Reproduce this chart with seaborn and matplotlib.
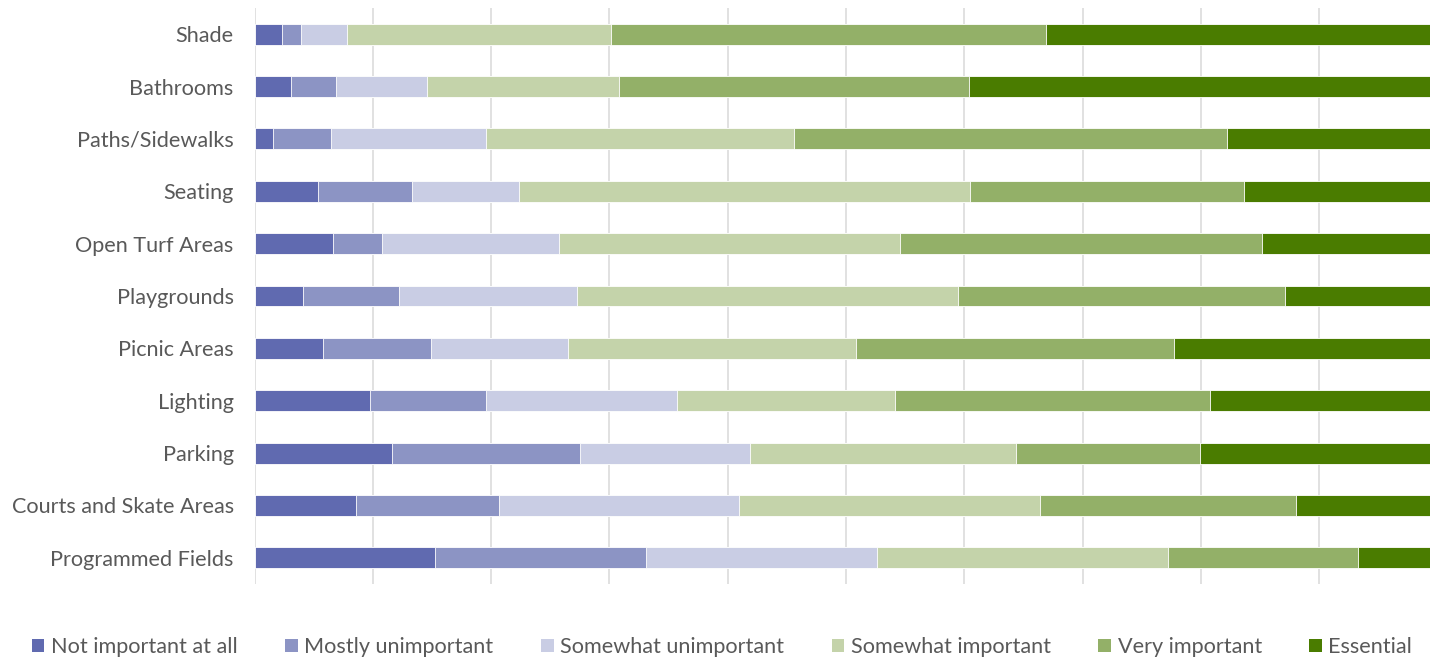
import matplotlib
matplotlib.use("Agg")
import matplotlib.pyplot as plt
from matplotlib.patches import Patch
import seaborn as sns
import pandas as pd
import numpy as np

categories = ["Shade", "Bathrooms", "Paths/Sidewalks", "Seating", "Open Turf Areas",
              "Playgrounds", "Picnic Areas", "Lighting", "Parking",
              "Courts and Skate Areas", "Programmed Fields"]
levels = ["Not important at all", "Mostly unimportant", "Somewhat unimportant",
          "Somewhat important", "Very important", "Essential"]

not_important = [2.3, 3.1, 1.6, 5.4, 6.6, 4.1, 5.8, 9.8, 11.6, 8.6, 15.3]
mostly_unimportant = [1.6, 3.8, 4.9, 7.9, 4.2, 8.1, 9.1, 9.8, 15.9, 12.1, 17.8]
somewhat_unimportant = [3.9, 7.7, 13.1, 9.1, 14.9, 15.1, 11.6, 16.1, 14.4, 20.3, 19.5]
somewhat_important = [22.3, 16.2, 26.0, 38.1, 28.9, 32.2, 24.4, 18.4, 22.5, 25.5, 24.6]
very_important = [36.8, 29.6, 36.6, 23.2, 30.6, 27.6, 26.9, 26.7, 15.5, 21.6, 16.1]
essential = [33.1, 39.6, 17.8, 16.4, 14.8, 12.9, 22.3, 19.2, 20.1, 12.0, 6.7]

colors = ["#606AB0", "#8C94C4", "#C9CDE4", "#C4D3AA", "#93B068", "#4A7C00"]

series = [not_important, mostly_unimportant, somewhat_unimportant,
          somewhat_important, very_important, essential]

df = pd.DataFrame({"category": categories})
cum = np.zeros(len(categories))
for lev, vals in zip(levels, series):
    cum = cum + np.array(vals)
    df[lev] = cum.copy()

# normalize to 100 %
total = df[levels[-1]].values
for lev in levels:
    df[lev] = df[lev] / total * 100

sns.set_theme(style="white")
plt.rcParams["font.family"] = ["Lato", "DejaVu Sans"]

W, H = 1430, 662
fig = plt.figure(figsize=(W / 100, H / 100), dpi=100)
left_px, right_px, top_px, bottom_px = 254.5, 1437.5, 8, 584
ax = fig.add_axes([left_px / W, (H - bottom_px) / H,
                   (right_px - left_px) / W, (bottom_px - top_px) / H])

for lev, col in reversed(list(zip(levels, colors))):
    sns.barplot(data=df, x=lev, y="category", order=categories, color=col,
                width=0.4, orient="h", ax=ax, edgecolor="white", linewidth=0.6,
                saturation=1)

ax.set_xlim(0, 100)
ax.set_ylim(10.5, -0.5)
ax.set_xticks(np.arange(0, 101, 10))
ax.set_xticklabels([])
ax.grid(axis="x", color="#D9D9D9", linewidth=1.1)
ax.set_axisbelow(True)
for s in ax.spines.values():
    s.set_visible(False)
ax.set_xlabel("")
ax.set_ylabel("")
ax.tick_params(axis="y", length=0, pad=15, labelsize=15.6, labelcolor="#595959")
ax.tick_params(axis="x", length=0)

handles = [Patch(facecolor=c, edgecolor="none") for c in colors]
fig.legend(handles, levels, loc="center", bbox_to_anchor=(722 / W, (H - 647) / H),
           ncol=6, frameon=False, fontsize=15.6, labelcolor="#595959",
           handlelength=0.58, handleheight=0.58, handletextpad=0.3,
           columnspacing=2.2, borderpad=0, borderaxespad=0)

fig.savefig("out.png", dpi=100)
